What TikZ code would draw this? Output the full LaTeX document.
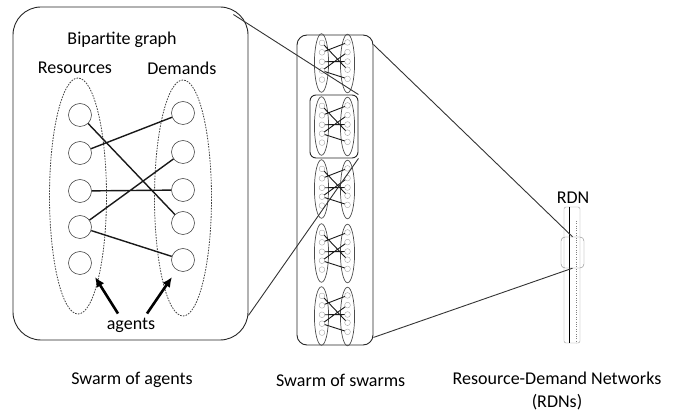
\documentclass[tikz,border=0pt]{standalone}
\usepackage{fontspec}
\setmainfont{Carlito}
\usetikzlibrary{positioning,shapes.geometric,arrows.meta}

\begin{document}
\begin{tikzpicture}[x=1pt,y=-1pt]
\tikzset{
    txt/.style={font=\fontsize{18}{23}\selectfont, inner sep=0pt},
    frame/.style={draw=black!85, line width=0.9pt, inner sep=0pt},
    group/.style={ellipse, draw=black!75, thick, dash pattern=on 1.6pt off 1.2pt, minimum width=57, minimum height=236},
    agent/.style={circle, draw=black!70, semithick, minimum size=23, inner sep=0pt},
    link/.style={black!90, line width=1.4pt},
    push/.style={-{Latex[length=10pt,width=9pt]}, line width=2.6pt},
    zoomline/.style={black!80, line width=0.9pt},
    small/.style={scale=0.248, transform shape,
        group/.append style={solid, draw=black!70, line width=0.7pt},
        agent/.append style={draw=black!35, line width=0.4pt},
        link/.append style={line width=0.9pt}},
    bigraph/.pic={
        \node[group] (-res) at (-52.5,0) {};
        \node[group] (-dem) at (52.5,2) {};
        \foreach \n/\yr/\yd in {1/-81/-83,2/-43/-44,3/-5/-6,4/31/27,5/67/64} {
            \node[agent] (-r\n) at (-50.5,\yr) {};
            \node[agent] (-d\n) at (52.5,\yd) {};
        }
        \draw[link] (-r1) -- (-d4) (-r2) -- (-d1) (-r3) -- (-d3) (-r4) -- (-d2) (-r4) -- (-d5);
    }
}
\useasboundingbox (0,0) rectangle (680,411);

% swarm of agents
\node[frame, rounded corners=28, minimum width=235, minimum height=333] (agentbox) at (130.5,173.5) {};
\pic (big) at (130.5,196) {bigraph};
\node[txt] (bip) at (122,40) {Bipartite graph};
\node[txt] (reslbl) at (75,68) {Resources};
\node[txt, right=35 of reslbl] (demlbl) {Demands};
\node[txt] (agents) at (131,325) {agents};
\coordinate (restip) at (95,277);
\coordinate (demtip) at (172,277);
\draw[push] ([shift={(-13,-4)}]agents.north) -- (restip);
\draw[push] ([shift={(16,-4)}]agents.north) -- (demtip);

% swarm of swarms
\node[frame, rounded corners=10, minimum width=76, minimum height=310] (swarmbox) at (335,190) {};
\foreach \y [count=\i] in {63,126,189,253,316}
    \pic[small] (mini\i) at (334.5,\y) {bigraph};
\node[frame, rounded corners=6, minimum width=48, minimum height=63] (focus) at (334,126.5) {};

% RDN seen from the side
\node[draw=black!40, rounded corners=2, minimum width=16, minimum height=136, inner sep=0pt] (rdnbar) at (572,275) {};
\draw[black, line width=1pt] ([shift={(-3,0)}]rdnbar.north) -- ([shift={(-3,0)}]rdnbar.south);
\draw[black!50, dotted] ([shift={(4,14)}]rdnbar.north) -- ([shift={(4,0)}]rdnbar.south);
\node[draw=black!50, rounded corners=4, minimum width=23, minimum height=31, inner sep=0pt] (rdnbox) at (572.5,252.5) {};
\node[txt] (rdnlbl) at (573,198) {RDN};

% zoom lines
\draw[zoomline] ([shift={(-15,8)}]agentbox.north east) -- (focus.north east);
\draw[zoomline] ([shift={(0,-25)}]agentbox.south east) -- (focus.south east);
\draw[zoomline] ([shift={(0,10)}]swarmbox.north east) -- (rdnbox.north);
\draw[zoomline] ([shift={(0,-8)}]swarmbox.south east) -- (rdnbox.south);

% captions
\node[txt] (cap1) at (132,380) {Swarm of agents};
\node[txt, right=83 of cap1] (cap2) {Swarm of swarms};
\node[txt, align=center] (cap3) at (557,391) {Resource-Demand Networks\\(RDNs)};
\end{tikzpicture}
\end{document}
